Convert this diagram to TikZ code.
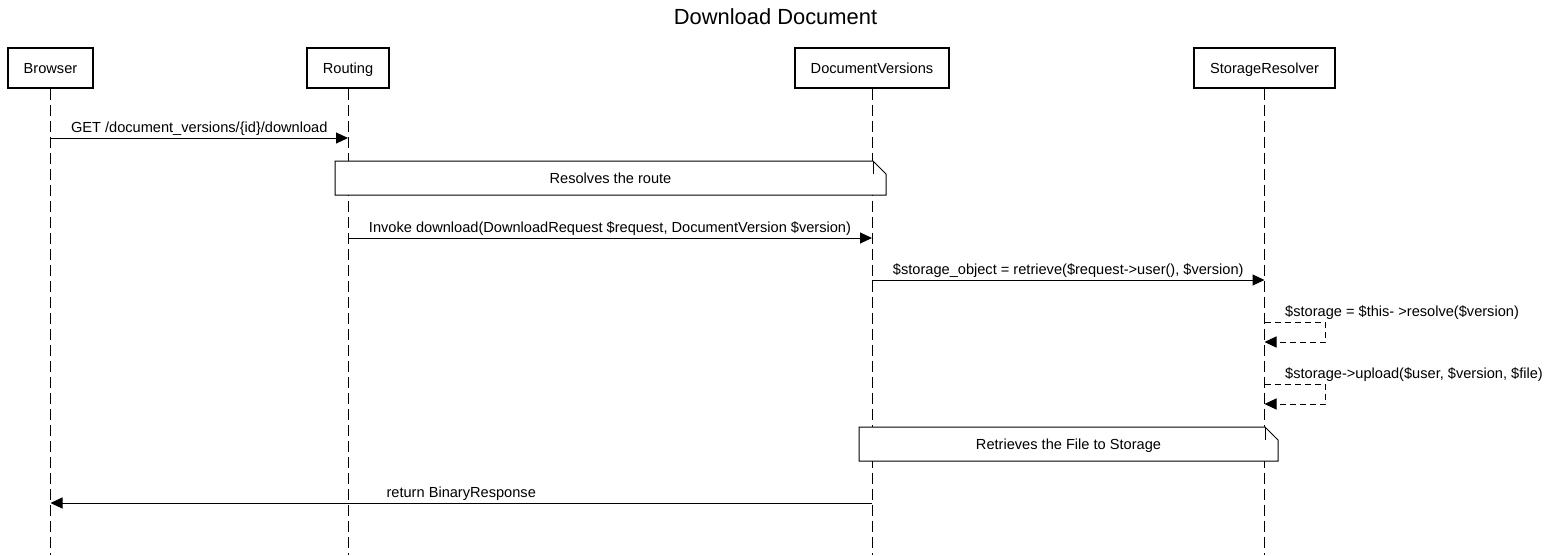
\documentclass[tikz,border=0pt]{standalone}
\usepackage{fontspec}
\setmainfont{Liberation Sans}
\usetikzlibrary{arrows.meta}
\begin{document}
\begin{tikzpicture}[x=1pt,y=-1pt,
  actor/.style={draw=black, line width=2pt, fill=white, minimum width=#1, minimum height=40pt,
    inner sep=0pt, text height=10.5pt, text depth=0pt, font=\fontsize{14.6}{17}\selectfont},
  lifeline/.style={draw=black, line width=1pt, dash pattern=on 11pt off 5pt},
  msg/.style={draw=black, line width=1pt, -{Triangle[length=12pt,width=11pt]}},
  selfmsg/.style={draw=black, line width=1pt, dash pattern=on 6pt off 4pt, -{Triangle[length=12pt,width=11pt]}},
  lbl/.style={font=\fontsize{14.6}{17}\selectfont, inner sep=0pt, anchor=base},
  notebox/.style={draw=black, line width=1pt, fill=white},
  notetext/.style={font=\fontsize{14.6}{17}\selectfont, inner sep=0pt, anchor=base}
]
\useasboundingbox (0,0) rectangle (1551,555);
\fill[white] (0,0) rectangle (1551,555);

% title
\node[font=\fontsize{21.9}{26}\selectfont, inner sep=0pt, anchor=base] (title) at (775.5,24) {Download Document};

% actors
\node[actor=85pt]  (browser) at (50.5,68)  {Browser};
\node[actor=82pt]  (routing) at (348,68)   {Routing};
\node[actor=154pt] (docv)    at (872,68)   {DocumentVersions};
\node[actor=141pt] (store)   at (1264.5,68) {StorageResolver};

\coordinate (bottom) at (0,555);
\draw[lifeline] (browser.south) -- (browser.south |- bottom);
\draw[lifeline] (routing.south) -- (routing.south |- bottom);
\draw[lifeline] (docv.south) -- (docv.south |- bottom);
\draw[lifeline] (store.south) -- (store.south |- bottom);

% message 1
\coordinate (m1) at (0,138);
\draw[msg] (browser |- m1) -- node[lbl, yshift=5.3pt] {GET /document\_versions/\{id\}/download} (routing |- m1);

% note 1
\draw[notebox] (335,161) -- (873,161) -- (886,174) -- (886,195) -- (335,195) -- cycle;
\draw[line width=1pt] (873,161) -- (873,174);
\node[notetext] (note1) at (610.5,183.5) {Resolves the route};

% message 2
\coordinate (m2) at (0,238);
\draw[msg] (routing |- m2) -- node[lbl, yshift=5.3pt] {Invoke download(DownloadRequest \$request, DocumentVersion \$version)} (docv |- m2);

% message 3
\coordinate (m3) at (0,280);
\draw[msg] (docv |- m3) -- node[lbl, yshift=5.3pt] {\$storage\_object = retrieve(\$request->user(), \$version)} (store |- m3);

% self message 1
\coordinate (s1a) at (0,322);
\coordinate (s1r) at (1325,322);
\coordinate (s1b) at (1325,342);
\draw[selfmsg] (store |- s1a) -- (s1r) -- (s1b) -- (store |- s1b);
\node[lbl, anchor=base west] (s1lbl) at (1285,316.7) {\$storage = \$this- >resolve(\$version)};

% self message 2
\coordinate (s2a) at (0,384);
\coordinate (s2r) at (1325,384);
\coordinate (s2b) at (1325,404);
\draw[selfmsg] (store |- s2a) -- (s2r) -- (s2b) -- (store |- s2b);
\node[lbl, anchor=base west] (s2lbl) at (1285,378.7) {\$storage->upload(\$user, \$version, \$file)};

% note 2
\draw[notebox] (859,427) -- (1265,427) -- (1278,440) -- (1278,461) -- (859,461) -- cycle;
\draw[line width=1pt] (1265,427) -- (1265,440);
\node[notetext] (note2) at (1068.5,449.5) {Retrieves the File to Storage};

% return
\coordinate (m4) at (0,503);
\draw[msg] (docv |- m4) -- node[lbl, yshift=5.3pt] {return BinaryResponse} (browser |- m4);
\end{tikzpicture}
\end{document}
